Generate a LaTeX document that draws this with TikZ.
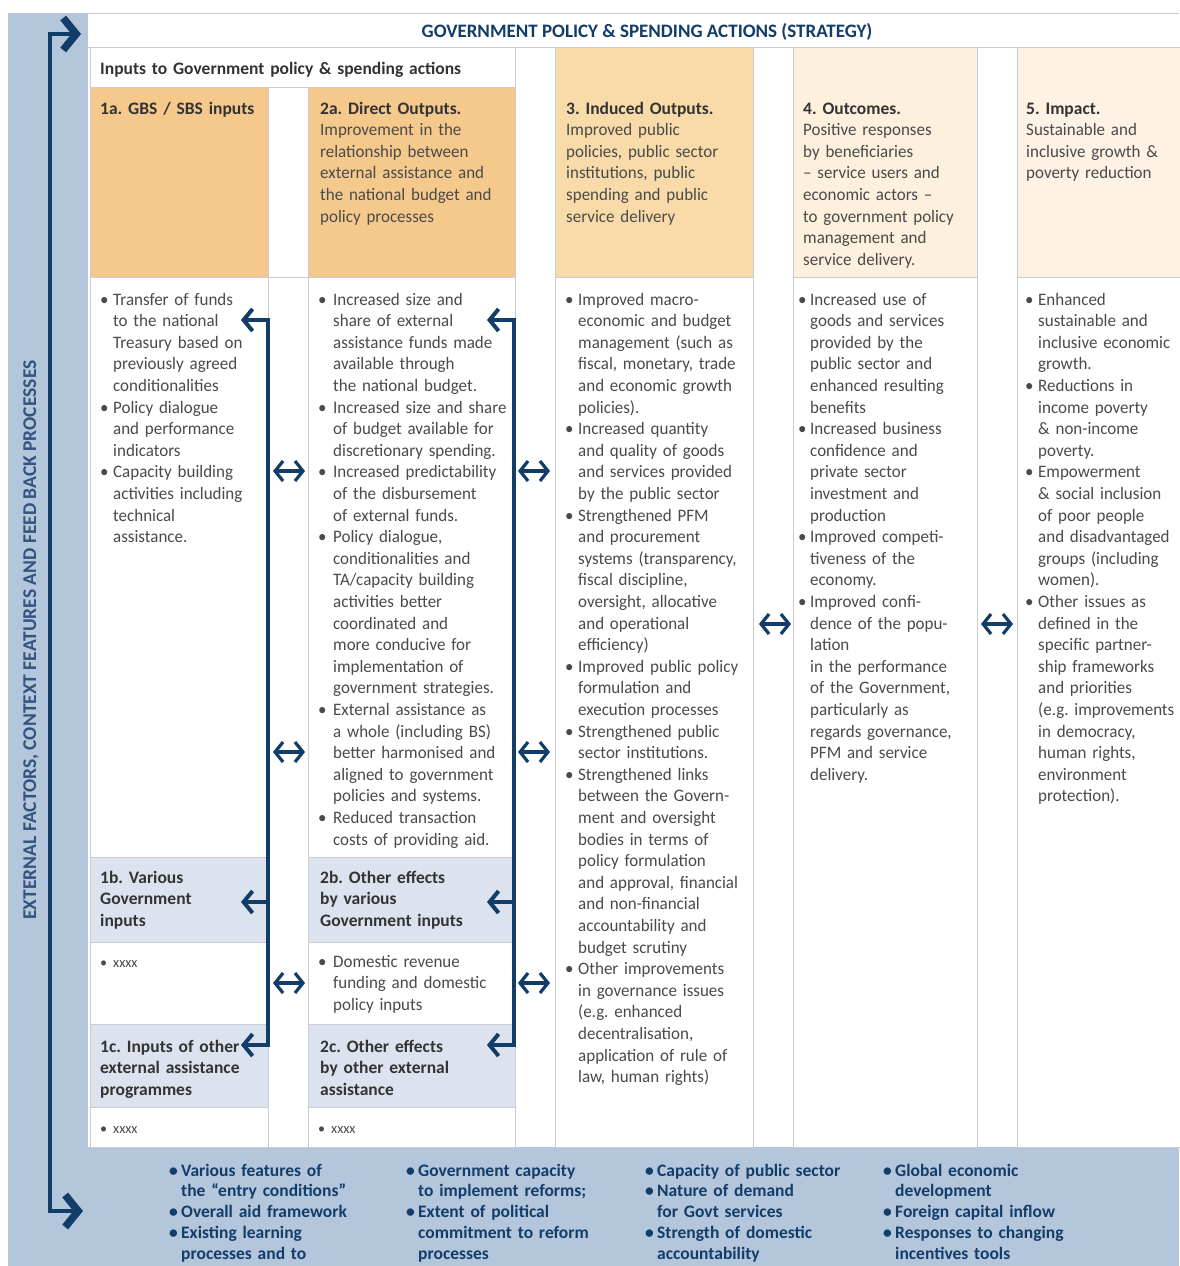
\documentclass[tikz,border=0pt]{standalone}
\usepackage{fontspec}
\setmainfont{Carlito}
\newfontfamily\bodyfont{Carlito}[FakeStretch=0.97, Ligatures=TeX]
\usetikzlibrary{arrows.meta}
\definecolor{band}{HTML}{B4C6DC}
\definecolor{hdrA}{HTML}{F5C98C}
\definecolor{hdrB}{HTML}{F8DBA9}
\definecolor{hdrC}{HTML}{FDF0DC}
\definecolor{hdrD}{HTML}{FDF2E3}
\definecolor{subhdr}{HTML}{DCE3EE}
\definecolor{navy}{HTML}{123D69}
\definecolor{sidetxt}{HTML}{33547F}
\definecolor{gridc}{HTML}{C9CDD3}
\definecolor{txt}{HTML}{4A4A4A}
\definecolor{htxt}{HTML}{333333}
\newlength\bullw
\setlength\bullw{13pt}
\newcommand\Bu{\makebox[\bullw][l]{\textbullet}}
\newcommand\In{\hspace*{\bullw}}
\newcommand\Hd[1]{{\normalfont\bfseries\color{htxt}#1}}
\tikzset{
  cellbox/.style={draw=gridc, line width=0.7pt},
  gridline/.style={draw=gridc, line width=0.7pt},
  bodytxt/.style={anchor=base west, align=left, text width=260pt, inner sep=0pt, text=txt,
                  font=\bodyfont\fontsize{17.5}{21.6}\selectfont},
  subhead/.style={anchor=base west, align=left, text width=460pt, inner sep=0pt, text=htxt,
                  font=\fontsize{17.5}{21.6}\selectfont\bfseries},
  bandtxt/.style={anchor=base west, align=left, text width=260pt, inner sep=0pt, text=navy,
                  font=\fontsize{17.5}{20.8}\selectfont\bfseries},
  smallx/.style={bodytxt, font=\bodyfont\fontsize{14.5}{21.6}\selectfont},
  dbhead/.tip={Straight Barb[length=8pt,width=20pt]},
  fbhead/.tip={Straight Barb[length=9pt,width=22pt]},
  bighead/.tip={Straight Barb[length=13pt,width=32pt,line width=7.5pt]},
  dblarrow/.style={draw=navy, line width=3.2pt, {dbhead}-{dbhead}},
  fback/.style={draw=navy, line width=4pt, line join=miter}
}
\begin{document}
\frenchspacing
\begin{tikzpicture}[x=1pt,y=-1pt]
\useasboundingbox (0,0) rectangle (1179,1266);
\fill[white] (0,0) rectangle (1179,1266);
% bands
\fill[band] (8,13) rectangle (88,1266);
\fill[band] (8,1147) rectangle (1179,1266);
% main white area
\fill[white] (88,13) rectangle (1179,1147);
\draw[gridline] (88,13) -- (1179,13);
\draw[gridline] (88,47) -- (1179,47);
% inputs row
\draw[cellbox, fill=white] (90,47) rectangle (515,87);
% headers
\draw[cellbox, fill=hdrA] (90,87) rectangle (268,277);
\draw[cellbox, fill=hdrA] (308,87) rectangle (515,277);
\draw[cellbox, fill=hdrB] (555,47) rectangle (753,277);
\draw[cellbox, fill=hdrC] (793,47) rectangle (977,277);
\draw[cellbox, fill=hdrD] (1017,47) rectangle (1190,277);
% column 1 and 2 cells
\foreach \xa/\xb in {90/268, 308/515}{
  \draw[cellbox, fill=white]  (\xa,277)  rectangle (\xb,857);
  \draw[cellbox, fill=subhdr] (\xa,857)  rectangle (\xb,942);
  \draw[cellbox, fill=white]  (\xa,942)  rectangle (\xb,1024);
  \draw[cellbox, fill=subhdr] (\xa,1024) rectangle (\xb,1107);
  \draw[cellbox, fill=white]  (\xa,1107) rectangle (\xb,1147);
}
% gap G1 in body
\draw[cellbox] (268,277) rectangle (308,1147);
% columns 3-5 bodies
\draw[cellbox, fill=white] (555,277) rectangle (753,1147);
\draw[cellbox, fill=white] (793,277) rectangle (977,1147);
\draw[cellbox, fill=white] (1017,277) rectangle (1190,1147);

% title
\node[anchor=base, inner sep=0pt, text=navy, font=\fontsize{19}{20}\selectfont\bfseries] (title) at (647,37)
  {GOVERNMENT POLICY \& SPENDING ACTIONS (STRATEGY)};
\node[subhead] (inputs) at (100,74) {Inputs to Government policy \& spending actions};

% side text
\node[rotate=90, inner sep=0pt, text=sidetxt, font=\fontsize{19.5}{21}\selectfont\bfseries] (side) at (31,640)
  {EXTERNAL FACTORS, CONTEXT FEATURES AND FEED BACK PROCESSES};

% headers
\node[subhead] (h1a) at (100,114) {1a. GBS / SBS inputs};
\node[bodytxt] (h2a) at (320,114) {\Hd{2a. Direct Outputs.}\\
Improvement in the\\relationship between\\external assistance and\\the national budget and\\policy processes};
\node[bodytxt] (h3) at (566,114) {\Hd{3. Induced Outputs.}\\
Improved public\\policies, public sector\\institutions, public\\spending and public\\service delivery};
\node[bodytxt] (h4) at (803,114) {\Hd{4. Outcomes.}\\
Positive responses\\by beneficiaries\\– service users and\\economic actors –\\to government policy\\management and\\service delivery.};
\node[bodytxt] (h5) at (1026,114) {\Hd{5. Impact.}\\
Sustainable and\\inclusive growth \&\\poverty reduction};

% bodies
\node[bodytxt] (b1a) at (100,305) {\Bu Transfer of funds\\
\In to the national\\
\In Treasury based on\\
\In previously agreed\\
\In conditionalities\\
\Bu Policy dialogue\\
\In and performance\\
\In indicators\\
\Bu Capacity building\\
\In activities including\\
\In technical\\
\In assistance.};

\node[bodytxt] (b2a) at (318,305) {\setlength\bullw{15pt}\Bu Increased size and\\
\In share of external\\
\In assistance funds made\\
\In available through\\
\In the national budget.\\
\Bu Increased size and share\\
\In of budget available for\\
\In discretionary spending.\\
\Bu Increased predictability\\
\In of the disbursement\\
\In of external funds.\\
\Bu Policy dialogue,\\
\In conditionalities and\\
\In TA/capacity building\\
\In activities better\\
\In coordinated and\\
\In more conducive for\\
\In implementation of\\
\In government strategies.\\
\Bu External assistance as\\
\In a whole (including BS)\\
\In better harmonised and\\
\In aligned to government\\
\In policies and systems.\\
\Bu Reduced transaction\\
\In costs of providing aid.};

\node[bodytxt] (b3) at (565,305) {\Bu Improved macro-\\
\In economic and budget\\
\In management (such as\\
\In fiscal, monetary, trade\\
\In and economic growth\\
\In policies).\\
\Bu Increased quantity\\
\In and quality of goods\\
\In and services provided\\
\In by the public sector\\
\Bu Strengthened PFM\\
\In and procurement\\
\In systems (transparency,\\
\In fiscal discipline,\\
\In oversight, allocative\\
\In and operational\\
\In efficiency)\\
\Bu Improved public policy\\
\In formulation and\\
\In execution processes\\
\Bu Strengthened public\\
\In sector institutions.\\
\Bu Strengthened links\\
\In between the Govern-\\
\In ment and oversight\\
\In bodies in terms of\\
\In policy formulation\\
\In and approval, financial\\
\In and non-financial\\
\In accountability and\\
\In budget scrutiny\\
\Bu Other improvements\\
\In in governance issues\\
\In (e.g. enhanced\\
\In decentralisation,\\
\In application of rule of\\
\In law, human rights)};

\node[bodytxt] (b4) at (798,305) {\setlength\bullw{12pt}\Bu Increased use of\\
\In goods and services\\
\In provided by the\\
\In public sector and\\
\In enhanced resulting\\
\In benefits\\
\Bu Increased business\\
\In confidence and\\
\In private sector\\
\In investment and\\
\In production\\
\Bu Improved competi-\\
\In tiveness of the\\
\In economy.\\
\Bu Improved confi-\\
\In dence of the popu-\\
\In lation\\
\In in the performance\\
\In of the Government,\\
\In particularly as\\
\In regards governance,\\
\In PFM and service\\
\In delivery.};

\node[bodytxt] (b5) at (1025,305) {\Bu Enhanced\\
\In sustainable and\\
\In inclusive economic\\
\In growth.\\
\Bu Reductions in\\
\In income poverty\\
\In \& non-income\\
\In poverty.\\
\Bu Empowerment\\
\In \& social inclusion\\
\In of poor people\\
\In and disadvantaged\\
\In groups (including\\
\In women).\\
\Bu Other issues as\\
\In defined in the\\
\In specific partner-\\
\In ship frameworks\\
\In and priorities\\
\In (e.g. improvements\\
\In in democracy,\\
\In human rights,\\
\In environment\\
\In protection).};

% sub headers b / c
\node[subhead] (h1b) at (100,883) {1b. Various\\Government\\inputs};
\node[subhead] (h2b) at (320,883) {2b. Other effects\\by various\\Government inputs};
\node[smallx] (b1b) at (100,967) {\Bu xxxx};
\node[bodytxt] (b2b) at (318,967) {\setlength\bullw{15pt}\Bu Domestic revenue\\\In funding and domestic\\\In policy inputs};
\node[subhead] (h1c) at (100,1052) {1c. Inputs of other\\external assistance\\programmes};
\node[subhead] (h2c) at (320,1052) {2c. Other effects\\by other external\\assistance};
\node[smallx] (b1c) at (100,1133) {\Bu xxxx};
\node[smallx] (b2c) at (318,1133) {\Bu xxxx};

% bottom band texts
\setlength\bullw{12pt}
\node[bandtxt] (ea) at (169,1176) {\Bu Various features of\\\In the ``entry conditions''\\\Bu Overall aid framework\\\Bu Existing learning\\\In processes and to};
\node[bandtxt] (eb) at (406,1176) {\Bu Government capacity\\\In to implement reforms;\\\Bu Extent of political\\\In commitment to reform\\\In processes};
\node[bandtxt] (ec) at (645,1176) {\Bu Capacity of public sector\\\Bu Nature of demand\\\In for Govt services\\\Bu Strength of domestic\\\In accountability};
\node[bandtxt] (ed) at (883,1176) {\Bu Global economic\\\In development\\\Bu Foreign capital inflow\\\Bu Responses to changing\\\In incentives tools};

% main feedback arrow in left band
\coordinate (mTopTip) at (81,34);
\coordinate (mTop) at (50,34);
\coordinate (mBot) at (50,1211);
\coordinate (mBotTip) at (83,1211);
\draw[draw=navy, line width=4.5pt, line join=miter, {bighead}-{bighead}] (mTopTip) -- (mTop) -- (mBot) -- (mBotTip);

% feedback brackets
\foreach \n/\xl/\xt in {1/268/241, 2/514/487}{
  \coordinate (fT\n) at (\xl,320);
  \coordinate (fB\n) at (\xl,1045);
  \coordinate (fM\n) at (\xl,902);
  \coordinate (fTt\n) at (\xt,320);
  \coordinate (fBt\n) at (\xt,1045);
  \coordinate (fMt\n) at (\xt,902);
  \draw[fback, {fbhead}-{fbhead}] (fTt\n) -- (fT\n) -- (fB\n) -- (fBt\n);
  \draw[fback, -{fbhead}] (fM\n) -- (fMt\n);
}

% double arrows in gaps
\foreach \cx/\cy in {289/471, 289/752, 289/983, 534/471, 534/752, 534/983, 775/624, 997/624}{
  \coordinate (dl-\cx-\cy) at (\cx-16,\cy);
  \coordinate (dr-\cx-\cy) at (\cx+16,\cy);
  \draw[dblarrow] (dl-\cx-\cy) -- (dr-\cx-\cy);
}
\end{tikzpicture}
\end{document}
